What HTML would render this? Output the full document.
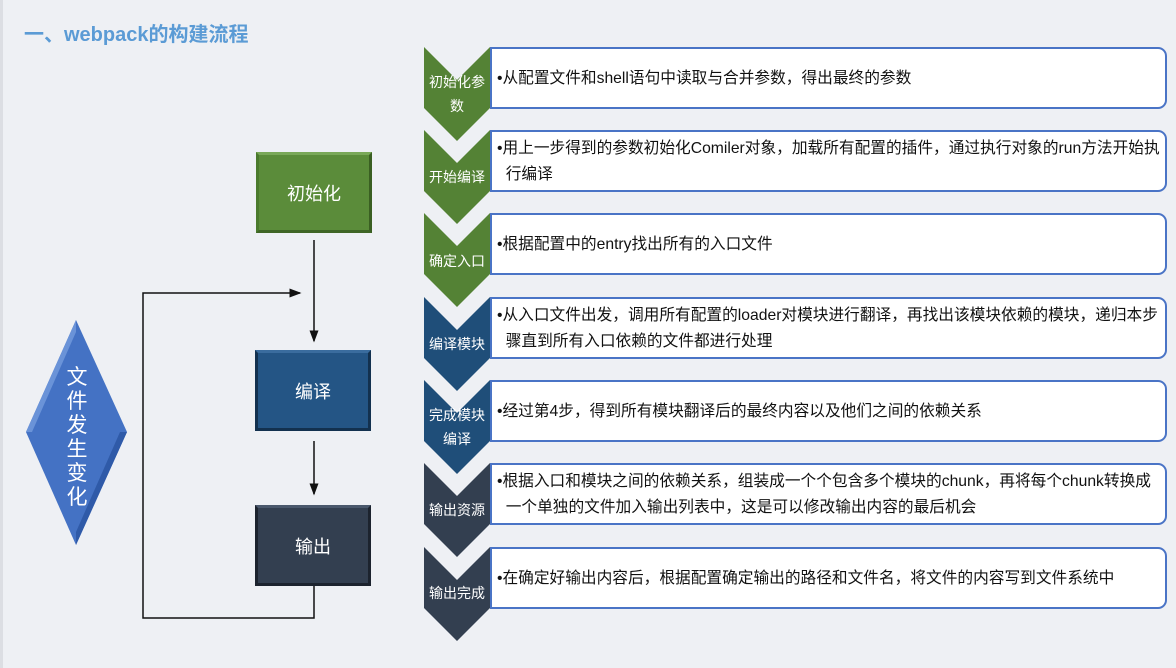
<!DOCTYPE html>
<html><head><meta charset="utf-8"><style>
body{margin:0;width:1176px;height:668px;background:#eef0f4;position:relative;overflow:hidden;font-family:"Liberation Sans","Noto Sans CJK SC",sans-serif}
.t{position:absolute;white-space:nowrap}
.card{position:absolute;left:490px;width:677px;background:#fff;border:2px solid #4a74c6;border-radius:0 9px 9px 0;box-sizing:border-box;font-size:15.7px;color:#111;line-height:26px;padding:2px 4px 0 5px;display:flex;align-items:center;white-space:nowrap;overflow:hidden}
.cl{position:absolute;left:422px;width:70px;text-align:center;color:#fff;font-size:14px;line-height:24px}
.bx{position:absolute;width:116px;height:81px;color:#fff;font-size:18px;display:flex;align-items:center;justify-content:center;box-sizing:border-box}
</style></head><body>
<div style="position:absolute;left:0;top:0;width:3px;height:668px;background:#dcdee3"></div>
<div class="t" style="left:24px;top:18px;font-size:20px;font-weight:bold;color:#5b9bd5">一、webpack的构建流程</div>
<svg width="1176" height="668" style="position:absolute;left:0;top:0">
<defs><marker id="a" markerWidth="8" markerHeight="8" refX="7" refY="4" orient="auto"><path d="M0,1 L8,4 L0,7z" fill="#111"/></marker></defs>
<path d="M424,47 L457,80 L490,47 L490,108 L457,141 L424,108z" fill="#548235"/>
<path d="M424,130 L457,163 L490,130 L490,191 L457,224 L424,191z" fill="#548235"/>
<path d="M424,213 L457,246 L490,213 L490,274 L457,307 L424,274z" fill="#548235"/>
<path d="M424,297 L457,330 L490,297 L490,358 L457,391 L424,358z" fill="#1f4e79"/>
<path d="M424,380 L457,413 L490,380 L490,441 L457,474 L424,441z" fill="#1f4e79"/>
<path d="M424,463 L457,496 L490,463 L490,524 L457,557 L424,524z" fill="#333f50"/>
<path d="M424,547 L457,580 L490,547 L490,608 L457,641 L424,608z" fill="#333f50"/>
<path d="M76,320 L127,432 L76,545 L26,432z" fill="#4472c4"/>
<path d="M76,320 L26,432 L32,432 L76,332z" fill="#6a93d8"/>
<path d="M127,432 L76,545 L76,532 L120,432z" fill="#2f5aa8"/>
<line x1="314" y1="240" x2="314" y2="341" stroke="#111" stroke-width="1.5" marker-end="url(#a)"/>
<line x1="314" y1="441" x2="314" y2="494" stroke="#111" stroke-width="1.5" marker-end="url(#a)"/>
<polyline points="314,586 314,618 143,618 143,293 300,293" fill="none" stroke="#111" stroke-width="1.5" marker-end="url(#a)"/>
</svg>
<div class="bx" style="left:256px;top:152px;background:#5b8c3a;border:3px solid #4a7a2c;border-top-color:#79a858;border-right-color:#3a5f22;border-bottom-color:#3f6626">初始化</div>
<div class="bx" style="left:255px;top:350px;background:#245585;border:3px solid #13314f;border-top-color:#3a6c9e">编译</div>
<div class="bx" style="left:255px;top:505px;background:#333f50;border:3px solid #1c232e;border-top-color:#4a586c">输出</div>
<div class="t" style="left:65px;top:366px;width:24px;font-size:21px;line-height:24px;color:#fff;white-space:normal;text-align:center">文件发生变化</div>
<div class="cl" style="top:70px">初始化参<br>数</div>
<div class="cl" style="top:165px">开始编译</div>
<div class="cl" style="top:249px">确定入口</div>
<div class="cl" style="top:332px">编译模块</div>
<div class="cl" style="top:403px">完成模块<br>编译</div>
<div class="cl" style="top:498px">输出资源</div>
<div class="cl" style="top:581px">输出完成</div>
<div class="card" style="top:47px;height:62px">•从配置文件和shell语句中读取与合并参数，得出最终的参数</div>
<div class="card" style="top:130px;height:62px">•用上一步得到的参数初始化Comiler对象，加载所有配置的插件，通过执行对象的run方法开始执<br>&nbsp;&nbsp;行编译</div>
<div class="card" style="top:213px;height:62px">•根据配置中的entry找出所有的入口文件</div>
<div class="card" style="top:297px;height:62px">•从入口文件出发，调用所有配置的loader对模块进行翻译，再找出该模块依赖的模块，递归本步<br>&nbsp;&nbsp;骤直到所有入口依赖的文件都进行处理</div>
<div class="card" style="top:380px;height:62px">•经过第4步，得到所有模块翻译后的最终内容以及他们之间的依赖关系</div>
<div class="card" style="top:463px;height:62px">•根据入口和模块之间的依赖关系，组装成一个个包含多个模块的chunk，再将每个chunk转换成<br>&nbsp;&nbsp;一个单独的文件加入输出列表中，这是可以修改输出内容的最后机会</div>
<div class="card" style="top:547px;height:62px">•在确定好输出内容后，根据配置确定输出的路径和文件名，将文件的内容写到文件系统中</div>
</body></html>
